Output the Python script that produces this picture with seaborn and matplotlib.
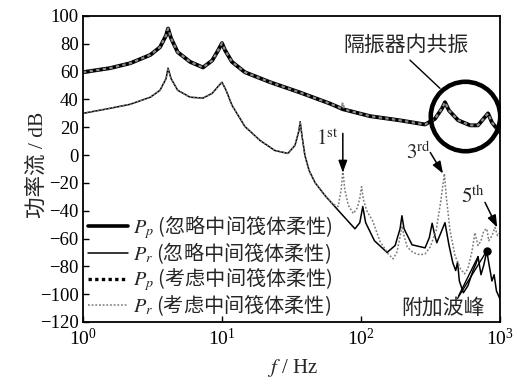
import matplotlib
matplotlib.use("Agg")
import matplotlib.pyplot as plt
from matplotlib.lines import Line2D
from matplotlib.font_manager import FontProperties
import seaborn as sns
import pandas as pd

# ---- power-flow spectra (frequency in Hz, level in dB) ----
pp_f = [1, 1.56, 2.18, 3.05, 3.58, 3.96, 4.09, 4.3, 4.8, 5.9, 7.3, 8.5, 9.4, 10,
        10.5, 11.8, 14.6, 22.2, 36.4, 59.9, 74, 116, 190, 289, 340, 383, 402,
        430, 500, 610, 695, 765, 820, 875, 1000]
pp_db = [59.6, 62.5, 66, 72, 77.6, 86, 91, 84, 74, 67, 63, 68, 75.5, 80.5,
         75.5, 67, 59.6, 52.4, 45, 37, 33, 28, 25, 22, 26, 33.6, 38,
         32, 25, 21.4, 21.4, 26.4, 30, 23.5, 16.3]

ppf_f = [1, 1.56, 2.18, 3.05, 3.58, 3.96, 4.09, 4.3, 4.8, 5.9, 7.3, 8.5, 9.4, 10,
         10.5, 11.8, 14.6, 22.2, 36.4, 59.9, 72.5, 74, 75.5, 116, 190, 289, 340,
         383, 402, 430, 500, 610, 695, 765, 820, 875, 1000]
ppf_db = [59.6, 62.5, 66, 72, 77.6, 86, 91, 84, 74, 67, 63, 68, 75.5, 80.5,
          75.5, 67, 59.6, 52.4, 45, 37, 33.5, 38, 32.8, 28, 25, 22, 26,
          33.6, 38, 32, 25, 21.4, 21.4, 26.4, 30, 23.5, 16.3]

pr_f = [1, 1.56, 2.18, 3.05, 3.58, 3.96, 4.09, 4.3, 4.8, 5.9, 7.3, 8.5, 9.4, 10,
        10.7, 11.8, 14.6, 18.8, 24, 29.8, 33.5, 35.8, 36.5, 37.6, 39.5, 42.3,
        46.7, 55, 71, 90.5, 98, 103, 108, 125, 154, 176, 191, 197, 204, 233,
        289, 310, 325, 340, 351, 375, 402, 430, 458, 480, 495, 510, 545, 587,
        640, 675, 695, 730, 765, 804, 830, 875, 907, 943, 1000]
pr_db = [30, 33.6, 36.5, 41.6, 46.6, 55, 62.5, 55, 46.6, 41.6, 41, 44.4, 49.5, 52.4,
         46.6, 35.8, 20.6, 10.5, 3.3, 1.2, 7, 17.7, 24, 14, -0.3, -11,
         -19.8, -29, -41.4, -53, -48.6, -37, -48.6, -61.6, -70, -65, -53, -43.6, -53, -64.5,
         -66.7, -59.4, -49, -58, -63, -56, -48.6, -65, -77.5, -83, -77, -90.5, -99, -94,
         -83, -77.5, -73, -86, -79, -69, -77.5, -90.5, -86, -97.7, -103.5]

prf_f = [1, 1.56, 2.18, 3.05, 3.58, 3.96, 4.09, 4.3, 4.8, 5.9, 7.3, 8.5, 9.4, 10,
         10.7, 11.8, 14.6, 18.8, 24, 29.8, 33.5, 35.8, 36.5, 37.6, 39.5, 42.3,
         46.7, 55, 62, 68.5, 72, 74, 76.5, 81, 88, 94, 98, 101, 104, 110, 121,
         137, 157, 170, 181, 190, 197, 204, 215, 236, 266, 289, 315, 347, 375,
         398, 410, 437, 475, 520, 555, 587, 630, 660, 695, 730, 765, 804, 830,
         875, 920, 960, 1000]
prf_db = [30, 33.6, 36.5, 41.6, 46.6, 55, 62.5, 55, 46.6, 41.6, 41, 44.4, 49.5, 52.4,
          46.6, 35.8, 20.6, 10.5, 3.3, 1.2, 7, 17.7, 24, 14, -0.3, -11,
          -19.8, -29, -35, -37, -25, -11, -25, -36, -42, -38, -31, -22.7, -32, -40, -47,
          -62, -71, -74.6, -70, -60, -51, -58, -66, -70, -71.7, -71, -66, -54.4, -33,
          -13.3, -29, -54.4, -72.4, -81.8, -85.4, -81.8, -68.8, -55.8, -65, -61.6, -54.4, -53, -61.6,
          -58, -52, -58, -55.8]

legend_labels = ["$P_p$ (忽略中间筏体柔性)", "$P_r$ (忽略中间筏体柔性)",
                 "$P_p$ (考虑中间筏体柔性)", "$P_r$ (考虑中间筏体柔性)"]
y_ticks = list(range(-120, 101, 20))

sns.set_theme(style="ticks")
plt.rcParams["font.family"] = ["Liberation Serif", "Noto Sans CJK SC"]
plt.rcParams["mathtext.fontset"] = "stix"
plt.rcParams["axes.unicode_minus"] = True

W, H = 526, 378
fig = plt.figure(figsize=(W / 100, H / 100), dpi=100)
L, R, T, B = 83, 500, 16, 322
ax = fig.add_axes([L / W, 1 - B / H, (R - L) / W, (B - T) / H])


def curve(f, db, **kw):
    df = pd.DataFrame({"f": f, "db": db})
    sns.lineplot(data=df, x="f", y="db", ax=ax, sort=False, estimator=None,
                 legend=False, **kw)


curve(pr_f, pr_db, color="black", lw=1.1)
curve(prf_f, prf_db, color="#7a7a7a", lw=1.1, linestyle=(0, (1.2, 1.2)))
curve(pp_f, pp_db, color="black", lw=2.8)
curve(ppf_f, ppf_db, color="#8c8c8c", lw=1.6, linestyle=(0, (1.5, 1.5)))

ax.set_xscale("log")
ax.set_xlim(1, 1000)
ax.set_ylim(-120, 100)
ax.set_yticks(y_ticks)
ax.set_xticks([1, 10, 100, 1000])
ax.xaxis.set_minor_locator(matplotlib.ticker.NullLocator())
ax.set_xlabel("")
ax.set_ylabel("")
ax.tick_params(direction="in", length=4, width=1, labelsize=14, colors="black")
ax.tick_params(axis="y", pad=3, labelsize=13.5)
ax.tick_params(axis="x", pad=4)
for s in ax.spines.values():
    s.set_visible(True)
    s.set_linewidth(1.3)
    s.set_color("black")

# resonance inside the isolator
ax.plot([560], [27.8], marker="o", ms=50, mfc="none", mec="black", mew=3.3, zorder=6)
ax.plot([225, 370], [68.3, 48], color="black", lw=1)
ax.text(212, 78.4, "隔振器内共振", ha="center", va="center", fontsize=15)

# flexible raft modes
arrow = dict(arrowstyle="-|>,head_length=0.6,head_width=0.22", color="black", lw=1.1,
             shrinkA=0, shrinkB=0)
ax.annotate("", xy=(74, -12.6), xytext=(74, 15.6), arrowprops=arrow)
ax.text(69, 11, r"$1^{\mathrm{st}}$", ha="right", va="center", fontsize=15)
ax.annotate("", xy=(389, -13.3), xytext=(315, 1.9), arrowprops=arrow)
ax.text(316, 1.5, r"$3^{\mathrm{rd}}$", ha="right", va="center", fontsize=15)
ax.annotate("", xy=(955, -52), xytext=(780, -34), arrowprops=arrow)
ax.text(785, -30.5, r"$5^{\mathrm{th}}$", ha="right", va="center", fontsize=15)

# additional peaks
ax.plot([804], [-68.8], marker="o", ms=5, color="black", zorder=6)
ax.plot([495, 804], [-103, -68.8], color="black", lw=1)
ax.plot([505, 695], [-101, -73], color="black", lw=1)
ax.text(389, -110.7, "附加波峰", ha="center", va="center", fontsize=15)

handles = [
    Line2D([], [], color="black", lw=2.6),
    Line2D([], [], color="black", lw=1.1),
    Line2D([], [], color="black", lw=2.4, linestyle=(0, (1, 1))),
    Line2D([], [], color="#7a7a7a", lw=1.1, linestyle=(0, (1.2, 1.2))),
]
ax.legend(handles, legend_labels, loc="lower left", frameon=False,
          prop=FontProperties(family="Noto Sans CJK SC", size=14.5),
          bbox_to_anchor=(5 / 417, 4 / 306), borderaxespad=0, borderpad=0,
          handlelength=2.0, handletextpad=0.25, labelspacing=0.0)

fig.text(292 / W, 1 - 368 / H, "$f$ / Hz", ha="center", va="center", fontsize=15)
fig.text(38 / W, 1 - 165 / H, "功率流 / dB", ha="center", va="center",
         rotation=90, fontsize=15.5)

fig.savefig("out.png", dpi=100)
